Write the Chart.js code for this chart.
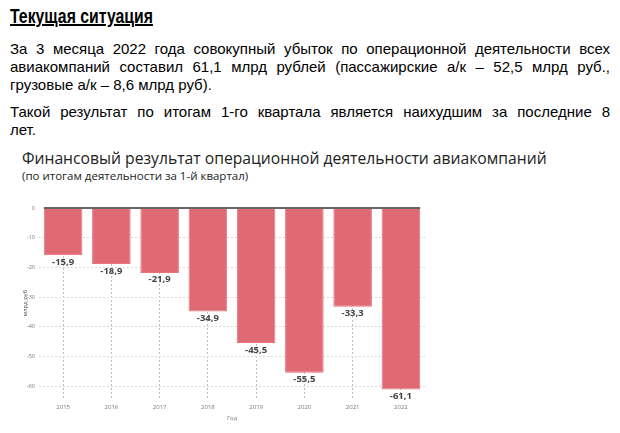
<!DOCTYPE html>
<html>
<head>
<meta charset="utf-8">
<script src="https://cdn.jsdelivr.net/npm/chart.js@4/dist/chart.umd.min.js"></script>
<style>
  body { margin: 0; width: 620px; height: 433px; background: #fff; position: relative; overflow: hidden; }
  .txt { position: absolute; left: 10px; width: 600px; font-family: "Liberation Sans", Arial, sans-serif; font-size: 15px; color: #000; white-space: nowrap; }
  .just { text-align: justify; text-align-last: justify; }
  #head { position: absolute; left: 10px; top: 5px; font-family: "Liberation Sans", Arial, sans-serif; font-size: 20px; font-weight: bold; text-decoration: underline; transform: scaleX(0.79); transform-origin: left center; white-space: nowrap; }
  #ctitle { position: absolute; left: 22px; top: 147px; font-family: "Open Sans", sans-serif; font-size: 15.7px; color: #222; white-space: nowrap; }
  #csub { position: absolute; left: 22px; top: 168px; font-family: "Open Sans", sans-serif; font-size: 11.5px; color: #222; white-space: nowrap; }
  #box { position: absolute; left: 0; top: 196px; width: 430px; height: 232px; }
</style>
</head>
<body>
<div id="head">Текущая ситуация</div>
<div class="txt just" style="top:40px">За 3 месяца 2022 года совокупный убыток по операционной деятельности всех</div>
<div class="txt just" style="top:58px">авиакомпаний составил 61,1 млрд рублей (пассажирские а/к – 52,5 млрд руб.,</div>
<div class="txt" style="top:76px">грузовые а/к – 8,6 млрд руб).</div>
<div class="txt just" style="top:103px">Такой результат по итогам 1-го квартала является наихудшим за последние 8</div>
<div class="txt" style="top:121px">лет.</div>
<div id="ctitle">Финансовый результат операционной деятельности авиакомпаний</div>
<div id="csub">(по итогам деятельности за 1-й квартал)</div>
<div id="box"><canvas id="chart"></canvas></div>
<script>
// categories and values
const years = ['2015', '2016', '2017', '2018', '2019', '2020', '2021', '2022'];
const result = [-15.9, -18.9, -21.9, -34.9, -45.5, -55.5, -33.3, -61.1];
const yTicks = [0, -10, -20, -30, -40, -50, -60];

// labels under bars + zero line on top
const barLabels = {
    id: 'barLabels',
    afterDatasetsDraw(chart) {
        const ctx = chart.ctx;
        const bars = chart.getDatasetMeta(0).data;
        const y0 = chart.scales.y.getPixelForValue(0);
        const first = bars[0], last = bars[bars.length - 1];
        ctx.save();
        ctx.strokeStyle = '#666';
        ctx.lineWidth = 2;
        ctx.beginPath();
        ctx.moveTo(first.x - first.width / 2, y0);
        ctx.lineTo(last.x + last.width / 2, y0);
        ctx.stroke();

        ctx.font = 'bold 9.5px "Open Sans", sans-serif';
        ctx.fillStyle = '#444';
        ctx.textAlign = 'center';
        ctx.textBaseline = 'top';
        bars.forEach((bar, i) => {
            ctx.fillText(result[i].toFixed(1).replace('.', ','), bar.x, bar.y + 2);
        });
        ctx.restore();
    }
};

new Chart(document.getElementById('chart'), {
    type: 'bar',
    data: {
        labels: years,
        datasets: [{
            data: result,
            backgroundColor: '#df6a73',
            borderColor: '#e8747c',
            borderWidth: 1,
            barPercentage: 0.8,
            categoryPercentage: 1.0,
        }],
    },
    options: {
        responsive: true,
        maintainAspectRatio: false,
        animation: false,
        layout: { padding: { top: 12, left: 22, right: 5, bottom: 0 } },
        plugins: { legend: { display: false }, tooltip: { enabled: false } },
        scales: {
            x: {
                grid: { offset: false, color: '#bdbdbd', drawTicks: false },
                border: { display: false, dash: [2, 2] },
                ticks: { color: '#777', font: { size: 6, family: 'Open Sans' }, padding: 6 },
                title: { display: true, text: 'Год', color: '#777', font: { size: 6, family: 'Open Sans' }, padding: { top: 0, bottom: 6 } },
                afterFit(scale) { scale.height = 30; },
            },
            y: {
                min: -64,
                max: 0,
                afterBuildTicks(scale) { scale.ticks = yTicks.map(v => ({ value: v })); },
                grid: { color: ctx => ctx.tick && ctx.tick.value === 0 ? 'rgba(0,0,0,0)' : '#d8d8d8', drawTicks: false },
                border: { display: false, dash: [2, 2] },
                ticks: { color: '#777', font: { size: 5.5, family: 'Open Sans' }, padding: 4 },
                title: { display: true, text: 'млрд руб', color: '#555', font: { size: 6, family: 'Open Sans' }, padding: 0 },
                afterFit(scale) { scale.width = 17; },
            },
        },
    },
    plugins: [barLabels],
});
</script>
</body>
</html>
